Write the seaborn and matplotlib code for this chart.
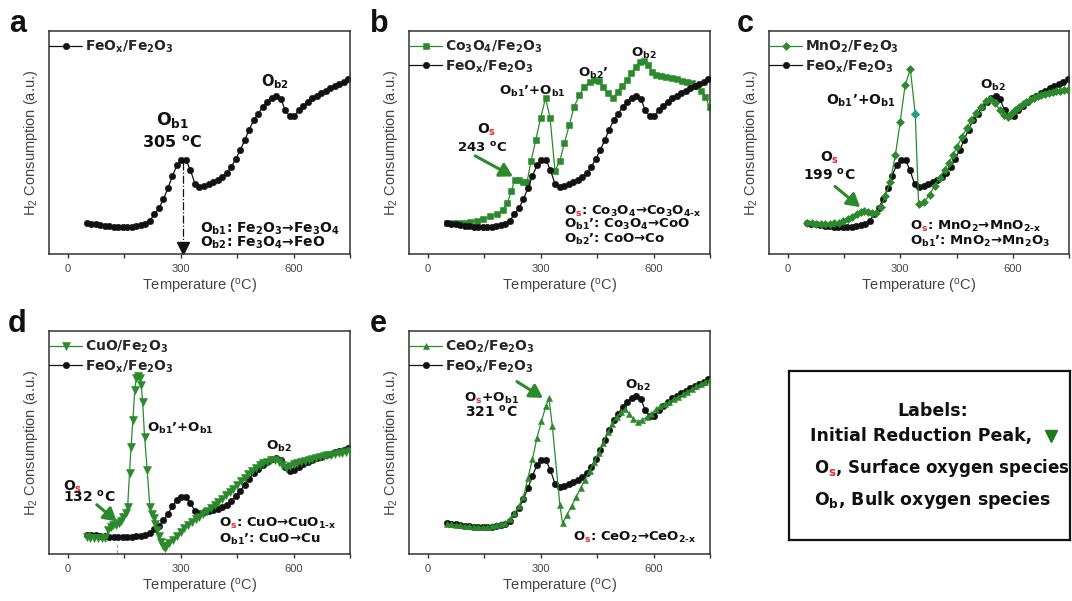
import matplotlib
matplotlib.use("Agg")
import matplotlib.pyplot as plt
import numpy as np
import pandas as pd
import seaborn as sns
from matplotlib.ticker import MultipleLocator
from matplotlib.font_manager import FontProperties
from matplotlib.transforms import Bbox

# ---------------- data ----------------
FEOX_T = [50, 62, 74, 86, 98, 110, 122, 134, 146, 158, 170, 182, 194, 206, 218, 230, 242, 254, 266, 278,
          290, 302, 314, 326, 338, 350, 362, 374, 386, 398, 410, 422, 434, 446, 458, 470, 482, 494, 506, 518,
          530, 542, 554, 566, 578, 590, 602, 614, 626, 638, 650, 662, 674, 686, 698, 710, 722, 734, 746]
FEOX_Y = [13.9, 13.6, 13.3, 13.0, 12.7, 12.4, 12.2, 12.0, 11.9, 12.0, 12.2, 12.6, 13.0, 13.4, 15.0, 17.8, 20.5, 24.5, 29.5, 35.0,
          39.8, 42.2, 42.2, 37.5, 31.5, 29.9, 30.5, 31.3, 32.3, 33.3, 34.5, 36.2, 39.0, 42.5, 46.5, 51.0, 55.8, 60.0, 63.0, 65.8,
          68.2, 70.0, 70.8, 69.5, 64.5, 61.7, 61.8, 64.5, 66.5, 68.3, 69.8, 71.0, 72.2, 73.3, 74.3, 75.3, 76.3, 77.3, 78.3]

CO_T = [50, 65, 80, 95, 112, 130, 148, 166, 184, 200, 211, 222, 231, 242, 254, 264, 274, 287, 300, 313,
        325, 338, 351, 363, 376, 389, 403, 416, 430, 443, 454, 465, 479, 493, 505, 517, 530, 541, 553, 564,
        575, 586, 596, 607, 620, 634, 648, 662, 675, 689, 702, 715, 727, 738, 749, 760]
CO_Y = [13.9, 13.9, 13.9, 14.0, 14.2, 14.9, 15.8, 16.9, 17.9, 19.9, 22.8, 28.1, 33.3, 33.0, 32.5, 32.5, 41.5, 51.2, 61.2, 69.9,
        60.9, 37.3, 41.8, 49.7, 57.9, 66.1, 71.3, 74.8, 77.3, 78.1, 77.8, 74.8, 72.1, 70.1, 72.8, 75.4, 78.1, 81.3, 84.0, 86.3,
        86.7, 84.8, 81.8, 80.3, 79.8, 79.2, 78.7, 78.3, 77.8, 77.2, 76.6, 75.4, 73.3, 70.6, 65.8, 50.0]

MN_T = [52, 64, 76, 88, 100, 112, 124, 136, 148, 160, 172, 184, 194, 203, 213, 224, 236, 248, 260, 273,
        287, 300, 313, 327, 340, 349, 364, 378, 392, 405, 418, 430, 441, 452, 464, 477, 489, 501, 514, 528,
        539, 553, 566, 577, 586, 596, 606, 616, 626, 636, 646, 656, 666, 676, 686, 696, 706, 716, 726, 736, 746]
MN_Y = [13.9, 13.7, 13.5, 13.4, 13.4, 13.5, 13.7, 14.1, 14.7, 15.6, 16.8, 18.0, 19.0, 19.4, 18.8, 18.4, 18.4, 21.0, 25.8, 32.5,
        44.3, 59.4, 75.8, 82.8, 62.7, 22.5, 23.3, 26.6, 30.7, 34.3, 37.8, 41.0, 44.5, 48.2, 52.4, 56.4, 60.1, 63.4, 66.1, 68.4,
        69.7, 67.6, 64.6, 62.4, 61.3, 62.8, 64.5, 66.0, 67.3, 68.3, 69.2, 70.0, 70.7, 71.3, 71.9, 72.4, 72.8, 73.1, 73.3, 73.5, 73.6]
MN_TEAL_INDEX = 24

CU_T = [50, 60, 70, 80, 90, 100, 108, 115, 121, 128, 135, 142, 148, 154, 159, 164, 168, 173, 178, 182,
        186, 191, 195, 199, 204, 211, 218, 223, 229, 233, 238, 243, 248, 253, 257, 262, 270, 280, 290, 300,
        310, 320, 330, 340, 350, 360, 370, 380, 390, 400, 410, 420, 430, 440, 450, 460, 470, 480, 490, 500,
        510, 520, 530, 540, 550, 560, 570, 580, 590, 600, 610, 620, 630, 640, 650, 660, 670, 680, 690, 700,
        710, 720, 730, 740, 750]
CU_Y = [12.1, 11.7, 11.6, 11.4, 11.4, 11.6, 17.4, 19.4, 21.1, 21.4, 22.7, 24.4, 27.2, 30.2, 34.7, 59.7, 79.5, 99.5, 121.9, 131.0,
        132.7, 131.0, 126.0, 112.7, 87.0, 62.2, 34.7, 29.4, 26.1, 21.9, 17.4, 12.7, 8.6, 5.2, 3.7, 5.7, 7.4, 10.2, 13.2, 16.1,
        18.7, 21.1, 23.2, 25.4, 27.4, 29.4, 31.6, 33.9, 36.1, 38.4, 40.7, 43.2, 45.7, 48.2, 50.7, 53.6, 56.4, 59.0, 61.5, 63.7,
        65.7, 67.4, 68.5, 69.4, 69.4, 68.0, 66.0, 64.0, 64.9, 66.4, 67.4, 68.2, 69.0, 69.9, 70.5, 71.0, 71.7, 72.4, 73.0, 73.5,
        74.2, 74.7, 75.2, 75.7, 76.0]

CE_T = [50, 62, 74, 86, 98, 110, 122, 134, 146, 158, 170, 182, 194, 206, 218, 230, 242, 254, 266, 278,
        290, 302, 314, 322, 331, 351, 358, 370, 382, 394, 406, 418, 430, 442, 454, 466, 478, 490, 502, 514,
        524, 534, 546, 558, 570, 582, 594, 606, 618, 630, 642, 654, 666, 678, 690, 702, 714, 726, 738, 750]
CE_Y = [13.6, 13.4, 13.1, 12.9, 12.6, 12.4, 12.2, 12.1, 12.0, 12.2, 12.5, 12.9, 13.4, 14.0, 15.5, 18.2, 21.5, 25.5, 34.0, 42.5,
        52.0, 59.5, 66.5, 69.8, 57.2, 22.0, 13.9, 17.5, 21.5, 25.5, 29.5, 33.3, 37.2, 41.2, 45.5, 50.0, 54.5, 58.5, 61.5, 63.8,
        65.0, 63.0, 60.5, 59.4, 60.0, 61.5, 63.0, 64.8, 66.2, 67.2, 68.2, 69.5, 70.5, 71.7, 72.8, 74.0, 75.2, 76.3, 77.3, 78.2]

PEAK_A = 305
OS_D = 132
XTICKS = [0, 300, 600]
PANEL_LETTERS = ["a", "b", "c", "d", "e"]
LEG_FE = "FeO$_x$/Fe$_2$O$_3$"

# ---------------- style ----------------
sns.set_style("white")
plt.rcParams.update({
    "font.family": ["Liberation Sans", "DejaVu Sans"],
    "mathtext.fontset": "custom",
    "mathtext.rm": "DejaVu Sans",
    "mathtext.bf": "DejaVu Sans:bold",
    "mathtext.it": "DejaVu Sans:italic",
    "mathtext.default": "regular",
})

GREEN = "#2b8a2b"
BLACK = "#111111"
RED = "#e8262b"
TEAL = "#2a9d8f"
AXC = "#333333"
LBLC = "#444444"
BOLD = dict(family="DejaVu Sans", fontweight="bold")

W, H = 1072, 601
fig = plt.figure(figsize=(W / 100, H / 100), dpi=100)
RENDERER = fig.canvas.get_renderer()


def px_axes(x0, y0, x1, y1):
    return fig.add_axes([x0 / W, 1 - y1 / H, (x1 - x0) / W, (y1 - y0) / H])


def setup(ax, ylim):
    ax.set_xlim(-50, 750)
    ax.set_ylim(*ylim)
    ax.set_xticks(XTICKS)
    ax.xaxis.set_minor_locator(MultipleLocator(150))
    ax.set_yticks([])
    ax.tick_params(axis="x", which="both", direction="out", bottom=True, top=False,
                   length=3, width=1, color=AXC, labelsize=8, labelcolor=LBLC, pad=4)
    for sp in ax.spines.values():
        sp.set_linewidth(1.1)
        sp.set_color(AXC)
    ax.set_xlabel("Temperature ($^{o}$C)", fontsize=10.5, color=LBLC)
    ax.set_ylabel("H$_2$ Consumption (a.u.)", fontsize=10.5, color=LBLC)
    ax.xaxis.set_label_coords(0.5, -0.105)
    ax.yaxis.set_label_coords(-0.03, 0.5)


def series(ax, T, Y, color, marker, ms, label, z):
    df = pd.DataFrame({"T": T, "Y": Y})
    sns.lineplot(data=df, x="T", y="Y", ax=ax, color=color, marker=marker, markersize=ms,
                 markeredgewidth=0.4, markeredgecolor=color, linewidth=0.9, label=label,
                 estimator=None, sort=False, zorder=z)


def legend(ax, order):
    h, l = ax.get_legend_handles_labels()
    d = dict(zip(l, h))
    ax.legend([d[k] for k in order], order, loc="upper left", bbox_to_anchor=(0, 0.965),
              frameon=False, borderpad=0, borderaxespad=0, handlelength=2.4, handletextpad=0.2,
              labelspacing=0.22, prop=FontProperties(family="DejaVu Sans", weight="bold", size=10))


def rtext(ax, x, y, s, fs, red=False, tr=None, ha="left"):
    """Bold text; if red, the subscript 's' of the leading O_s is drawn red (via clipping)."""
    tr = tr if tr is not None else ax.get_xaxis_transform()
    kw = dict(transform=tr, fontsize=fs, ha=ha, va="baseline", **BOLD)
    if not red:
        ax.text(x, y, s, color=BLACK, zorder=6, **kw)
        return
    t = ax.text(x, y, "O", **kw)
    xo = t.get_window_extent(RENDERER).x1
    t.remove()
    t = ax.text(x, y, "O$_s$", **kw)
    xs = t.get_window_extent(RENDERER).x1
    t.remove()
    big = 1e5
    for (a, b), col, txt in [((-big, xo), BLACK, s), ((xs, big), BLACK, s), ((xo, xs), RED, "O$_s$")]:
        tt = ax.text(x, y, txt, color=col, zorder=6, **kw)
        tt.set_clip_path(None)
        tt.set_clip_box(Bbox([[a, -big], [b, big]]))
        tt.set_clip_on(True)


def arrow(ax, tail, head):
    tr = ax.get_xaxis_transform()
    ax.annotate("", xy=head, xytext=tail, xycoords=tr, textcoords=tr,
                arrowprops=dict(arrowstyle="-|>,head_length=0.55,head_width=0.32", color=GREEN,
                                lw=2.2, shrinkA=0, shrinkB=0, mutation_scale=14))


axA = px_axes(49, 31, 350, 254)
axB = px_axes(409, 31, 710, 254)
axC = px_axes(769, 31, 1069, 254)
axD = px_axes(49, 331, 350, 554)
axE = px_axes(409, 331, 710, 554)

MS_O = 4.6

# ---- a ----
series(axA, FEOX_T, FEOX_Y, BLACK, "o", MS_O, LEG_FE, 2)
setup(axA, (0, 100))
legend(axA, [LEG_FE])
pk = FEOX_Y[int(np.argmin(np.abs(np.array(FEOX_T) - PEAK_A)))] / 100
axA.plot([PEAK_A, PEAK_A], [pk - 0.01, 0.04], transform=axA.get_xaxis_transform(),
         ls="-.", lw=0.9, color=BLACK)
axA.plot([PEAK_A], [0.027], transform=axA.get_xaxis_transform(), marker="v", ms=8,
         color=BLACK, clip_on=False)
rtext(axA, 278, 0.579, "O$_{b1}$", 12.5, ha="center")
rtext(axA, 278, 0.475, f"{PEAK_A} $^{{o}}$C", 11.5, ha="center")
rtext(axA, 514, 0.75, "O$_{b2}$", 10.5)
rtext(axA, 352, 0.094, "O$_{b1}$: Fe$_2$O$_3$→Fe$_3$O$_4$", 10)
rtext(axA, 352, 0.031, "O$_{b2}$: Fe$_3$O$_4$→FeO", 10)

# ---- b ----
LB = "Co$_3$O$_4$/Fe$_2$O$_3$"
series(axB, FEOX_T, FEOX_Y, BLACK, "o", MS_O, LEG_FE, 3)
series(axB, CO_T, CO_Y, GREEN, "s", 4.2, LB, 2)
setup(axB, (0, 100))
legend(axB, [LB, LEG_FE])
rtext(axB, 132, 0.542, "O$_s$", 10, red=True)
rtext(axB, 77, 0.46, "243 $^{o}$C", 9.5)
arrow(axB, (126, 0.44), (226, 0.348))
rtext(axB, 188, 0.713, "O$_{b1}$’+O$_{b1}$", 9.5)
rtext(axB, 398, 0.796, "O$_{b2}$’", 9.5)
rtext(axB, 541, 0.885, "O$_{b2}$", 9.5)
rtext(axB, 363, 0.176, "O$_s$: Co$_3$O$_4$→Co$_3$O$_{4‐x}$", 9.5, red=True)
rtext(axB, 363, 0.116, "O$_{b1}$’: Co$_3$O$_4$→CoO", 9.5)
rtext(axB, 363, 0.049, "O$_{b2}$’: CoO→Co", 9.5)

# ---- c ----
LC = "MnO$_2$/Fe$_2$O$_3$"
series(axC, FEOX_T, FEOX_Y, BLACK, "o", MS_O, LEG_FE, 2)
series(axC, MN_T, MN_Y, GREEN, "D", 4.0, LC, 3)
sns.scatterplot(x=[MN_T[MN_TEAL_INDEX]], y=[MN_Y[MN_TEAL_INDEX]], ax=axC, color=TEAL,
                marker="D", s=22, linewidth=0, zorder=4)
setup(axC, (0, 100))
legend(axC, [LC, LEG_FE])
rtext(axC, 102, 0.672, "O$_{b1}$’+O$_{b1}$", 10)
rtext(axC, 514, 0.739, "O$_{b2}$", 9.7)
rtext(axC, 86, 0.415, "O$_s$", 10, red=True)
rtext(axC, 41, 0.333, "199 $^{o}$C", 10)
arrow(axC, (126, 0.303), (193, 0.21))
rtext(axC, 325, 0.109, "O$_s$: MnO$_2$→MnO$_{2‐x}$", 9.5, red=True)
rtext(axC, 325, 0.042, "O$_{b1}$’: MnO$_2$→Mn$_2$O$_3$", 9.5)

# ---- d ----
LD = "CuO/Fe$_2$O$_3$"
series(axD, FEOX_T, FEOX_Y, BLACK, "o", MS_O, LEG_FE, 2)
series(axD, CU_T, CU_Y, GREEN, "v", 5.4, LD, 3)
setup(axD, (-0.6, 166))
legend(axD, [LD, LEG_FE])
axD.axvline(OS_D, ymin=0, ymax=0.045, ls="--", lw=0.9, color="#7fc47f")
rtext(axD, 211, 0.549, "O$_{b1}$’+O$_{b1}$", 9.5)
rtext(axD, 528, 0.467, "O$_{b2}$", 9.7)
rtext(axD, -12, 0.284, "O$_s$", 10, red=True)
rtext(axD, -12, 0.234, f"{OS_D} $^{{o}}$C", 10)
arrow(axD, (77, 0.221), (130, 0.146))
rtext(axD, 403, 0.121, "O$_s$: CuO→CuO$_{1‐x}$", 9.5, red=True)
rtext(axD, 403, 0.049, "O$_{b1}$’: CuO→Cu", 9.5)

# ---- e ----
LE = "CeO$_2$/Fe$_2$O$_3$"
series(axE, FEOX_T, FEOX_Y, BLACK, "o", MS_O, LEG_FE, 2)
series(axE, CE_T, CE_Y, GREEN, "^", 5.0, LE, 3)
setup(axE, (0, 100))
legend(axE, [LE, LEG_FE])
rtext(axE, 95, 0.684, "O$_s$+O$_{b1}$", 9.7, red=True)
rtext(axE, 99, 0.616, "321 $^{o}$C", 10)
arrow(axE, (237, 0.773), (306, 0.70))
rtext(axE, 523, 0.739, "O$_{b2}$", 9.5)
rtext(axE, 385, 0.057, "O$_s$: CeO$_2$→CeO$_{2‐x}$", 9.5, red=True)

# ---- panel letters ----
for letter, (x, y) in zip(PANEL_LETTERS, [(9, 32), (370, 32), (737, 32), (8, 332), (370, 332)]):
    fig.text(x / W, 1 - y / H, letter, fontsize=22, fontweight="bold",
             family=["Liberation Sans Narrow", "Liberation Sans"], va="baseline", ha="left", color=BLACK)

# ---- labels box ----
bax = px_axes(789, 371, 1070, 540)
bax.set_xticks([])
bax.set_yticks([])
bax.set_xlim(0, 1)
bax.set_ylim(0, 1)
for sp in bax.spines.values():
    sp.set_linewidth(1.6)
    sp.set_color(BLACK)
rtext(bax, 0.387, 0.734, "Labels:", 12.5, tr=bax.transAxes)
rtext(bax, 0.074, 0.586, "Initial Reduction Peak,", 12.5, tr=bax.transAxes)
bax.plot([0.933], [0.615], marker="v", ms=9, color="#1d7a1d", transform=bax.transAxes)
rtext(bax, 0.089, 0.396, "O$_s$, Surface oxygen species", 12.0, red=True, tr=bax.transAxes)
rtext(bax, 0.089, 0.207, "O$_b$, Bulk oxygen species", 12.5, tr=bax.transAxes)

fig.savefig("out.png", dpi=100)
